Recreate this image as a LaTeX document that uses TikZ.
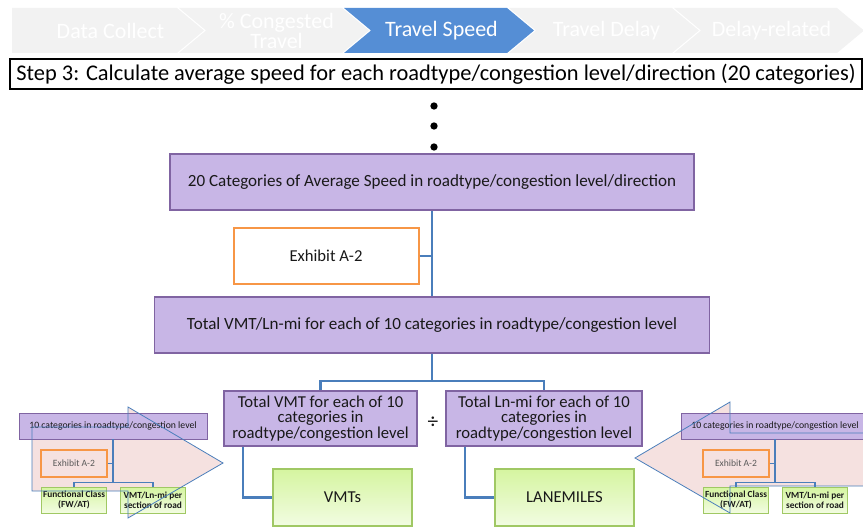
\documentclass[tikz,border=0pt]{standalone}
\usepackage{fontspec}
\setmainfont{Carlito}
\definecolor{chevgray}{RGB}{242,242,242}
\definecolor{chevblue}{RGB}{85,142,213}
\definecolor{lavfill}{RGB}{200,182,230}
\definecolor{lavline}{RGB}{128,100,162}
\definecolor{exorange}{RGB}{247,150,70}
\definecolor{linkblue}{RGB}{74,126,187}
\definecolor{leafgreen}{RGB}{213,245,160}
\definecolor{leafpale}{RGB}{242,252,226}
\definecolor{leafline}{RGB}{160,200,100}
\definecolor{arrowpink}{RGB}{245,225,224}
\definecolor{textdark}{RGB}{25,25,25}
\def\arrowleft{(32,427) -- (128,427) -- (128,407) -- (223,463) -- (128,518) -- (128,491) -- (32,491) -- cycle}
\def\arrowright{(870,433) -- (730,433) -- (730,402) -- (635,458) -- (730,513) -- (730,486) -- (870,486)}
\begin{document}
\begin{tikzpicture}
    [   x=0.75pt, y=-0.75pt,
        boxsize/.style 2 args={minimum width=#1*0.75pt,minimum height=#2*0.75pt},
        chevtext/.style={text=white,align=center,inner sep=0pt,font=\fontsize{16.5pt}{15pt}\selectfont},
        catbox/.style={draw=lavline,fill=lavfill,line width=1pt,inner sep=0pt,align=center,text=textdark,font=\fontsize{12.8pt}{11.5pt}\selectfont},
        exbox/.style={draw=exorange,fill=white,line width=1.5pt,inner sep=0pt,text=textdark,font=\fontsize{12.5pt}{12pt}\selectfont},
        leaf/.style={draw=leafline,top color=leafgreen,bottom color=leafpale,line width=0.8pt,inner sep=0pt,align=center,text=textdark,font=\fontsize{12.5pt}{12pt}\selectfont},
        link/.style={draw=linkblue,line width=1.7pt},
        smallcat/.style={catbox,line width=0.7pt,font=\fontsize{7.3pt}{8pt}\selectfont},
        smallex/.style={draw=exorange,line width=1.2pt,inner sep=0pt,text=black!65,font=\fontsize{7.2pt}{8pt}\selectfont},
        smallleaf/.style={leaf,line width=0.6pt,font=\bfseries\fontsize{7pt}{7.5pt}\selectfont},
        thinlink/.style={draw=linkblue,line width=1.1pt},
        bigarrow/.style={draw=linkblue,line width=0.6pt},
        dot/.style={circle,fill=black,inner sep=0pt,minimum size=5.5pt},
    ]
        \useasboundingbox (0,0) rectangle (863,527);
        \fill[arrowpink] \arrowleft;
        \fill[arrowpink] \arrowright -- cycle;
        \foreach \name [count=\i from 0] in {Data Collect,{\%~Congested\\Travel},Travel Speed,Travel Delay,Delay-related}
        {   \pgfmathsetmacro{\lx}{\i==0 ? 12 : 179+165*(\i-1)}
            \pgfmathsetmacro{\rx}{177+165*\i}
            \pgfmathsetmacro{\nd}{\i==0 ? 0 : 27}
            \pgfmathparse{\i==2 ? "chevblue" : "chevgray"}
            \let\chevcol\pgfmathresult
            \fill[fill=\chevcol] (\lx,8) -- (\rx,8) -- (\rx+27,30.5) -- (\rx,53) -- (\lx,53) -- (\lx+\nd,30.5) -- cycle;
            \node[chevtext] (stage-\i) at ({(\lx+\rx)/2+16},30.5) {\name};
        }
        \node[draw=black,line width=1.5pt,inner sep=0pt,boxsize={852}{30},font=\fontsize{16.8pt}{16pt}\selectfont] (step) at (436,74) {Step 3: Calculate average speed for each roadtype/congestion level/direction (20 categories)};
        \foreach \y [count=\i] in {106,126,147}
            \node[dot] (dot-\i) at (434,\y) {};
        \node[catbox,boxsize={524}{56}] (avg) at (432,182) {20 Categories of Average Speed in roadtype/congestion level/direction};
        \node[exbox,boxsize={185}{55}] (ex) at (326,256) {Exhibit A-2};
        \node[catbox,boxsize={555}{56}] (tot) at (432,325) {Total VMT/Ln-mi for each of 10 categories in roadtype/congestion level};
        \node[catbox,boxsize={193}{55},font=\fontsize{12.5pt}{11.5pt}\selectfont] (vmt) at (320.5,418.5) {Total VMT for each of 10\\categories in\\roadtype/congestion level};
        \node[catbox,boxsize={196}{55},font=\fontsize{12.5pt}{11.5pt}\selectfont] (lnmi) at (544,418.5) {Total Ln-mi for each of 10\\categories in\\roadtype/congestion level};
        \node[text=textdark,font=\fontsize{16pt}{16pt}\selectfont] (div) at (433,423) {÷};
        \node[leaf,boxsize={139}{57}] (vmts) at (342.5,497.5) {VMTs};
        \node[leaf,boxsize={139}{57}] (lanes) at (564.5,497.5) {LANEMILES};
        \draw[link] (avg.south) -- (tot.north);
        \draw[link] (ex.east) -- (ex.east -| avg.south);
        \draw[link] (tot.south) -- ++(0,27) -| (vmt.north);
        \draw[link] (tot.south) ++(0,27) -| (lnmi.north);
        \draw[link] ([xshift=15pt]vmt.south west) |- (vmts.west);
        \draw[link] ([xshift=15pt]lnmi.south west) |- (lanes.west);
        \foreach \t/\s in {113/l,775/r}
        {   \node[smallcat,boxsize={188}{26}] (cat-\s) at (\t,426) {10 categories in roadtype/congestion level};
            \node[smallex,boxsize={66}{27}] (ex-\s) at (\t-39,463.5) {Exhibit A-2};
            \node[smallleaf,boxsize={65}{26}] (fc-\s) at (\t-39,500) {Functional Class\\(FW/AT)};
            \node[smallleaf,boxsize={65}{26}] (sec-\s) at (\t+40,500) {VMT/Ln-mi per\\section of road};
            \draw[thinlink] (cat-\s.south) -- ++(0,43) -| (fc-\s.north);
            \draw[thinlink] (cat-\s.south) ++(0,43) -| (sec-\s.north);
            \draw[thinlink] (ex-\s.east) -- (ex-\s.east -| cat-\s.south);
        }
        \draw[bigarrow] \arrowleft;
        \draw[bigarrow] \arrowright;
    \end{tikzpicture}
\end{document}
